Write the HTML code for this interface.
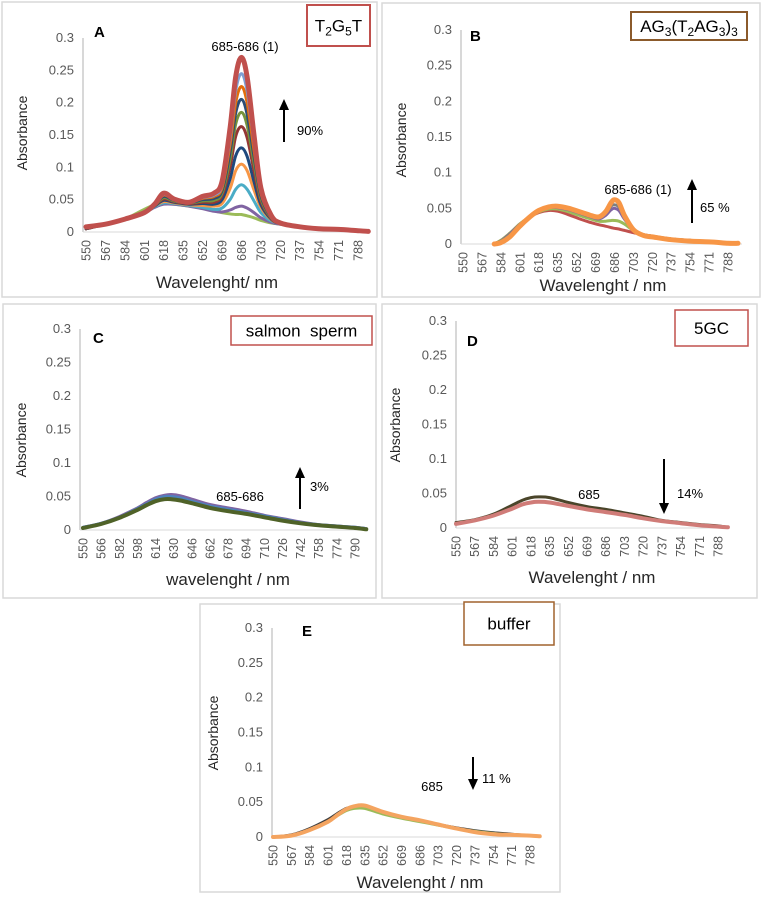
<!DOCTYPE html>
<html><head><meta charset="utf-8"><style>
html,body{margin:0;padding:0;background:#fff;}
svg{display:block;font-family:"Liberation Sans",sans-serif;}
.tick{font-size:12.5px;fill:#595959;}
.ytick{font-size:13px;fill:#595959;}
.ttl{font-size:16px;fill:#262626;}
.ann{font-size:13px;fill:#000;}
</style></head><body>
<svg id="fig" width="763" height="901" viewBox="0 0 763 901"></svg>
<script>
// ---- Data ----
const ticksA = [550,567,584,601,618,635,652,669,686,703,720,737,754,771,788];
const ticksC = [550,566,582,598,614,630,646,662,678,694,710,726,742,758,774,790];
const yTicks = [0,0.05,0.1,0.15,0.2,0.25,0.3];
const yTickLabels = ["0","0.05","0.1","0.15","0.2","0.25","0.3"];

const wA = [550,567,584,601,610,618,627,640,652,662,669,676,681,686,691,697,703,712,720,737,754,771,788,797];
const aGreen  = [0.005,0.012,0.02,0.035,0.042,0.044,0.043,0.04,0.037,0.033,0.03,0.028,0.027,0.027,0.025,0.022,0.018,0.014,0.012,0.008,0.005,0.004,0.002,0.001];
const aPurple = [0.005,0.012,0.02,0.03,0.038,0.043,0.043,0.04,0.036,0.032,0.031,0.034,0.038,0.04,0.037,0.03,0.022,0.015,0.012,0.008,0.005,0.004,0.002,0.001];
const aCyan   = [0.005,0.012,0.02,0.03,0.039,0.045,0.044,0.041,0.038,0.035,0.037,0.05,0.066,0.073,0.066,0.048,0.03,0.017,0.013,0.008,0.005,0.004,0.002,0.001];
const aOrange = [0.005,0.012,0.02,0.03,0.04,0.047,0.045,0.042,0.041,0.04,0.044,0.067,0.095,0.105,0.095,0.065,0.038,0.019,0.013,0.008,0.005,0.004,0.002,0.001];
const aNavy   = [0.005,0.012,0.02,0.03,0.04,0.049,0.046,0.043,0.044,0.043,0.05,0.082,0.118,0.13,0.117,0.078,0.042,0.02,0.013,0.008,0.005,0.004,0.002,0.001];
const aDkRed  = [0.005,0.012,0.02,0.03,0.041,0.051,0.047,0.044,0.046,0.046,0.056,0.1,0.148,0.163,0.146,0.095,0.048,0.021,0.013,0.008,0.005,0.004,0.002,0.001];
const aOlive  = [0.006,0.012,0.02,0.03,0.041,0.053,0.048,0.045,0.048,0.049,0.06,0.112,0.167,0.185,0.165,0.107,0.052,0.022,0.014,0.008,0.005,0.004,0.002,0.001];
const aBlue   = [0.006,0.012,0.02,0.03,0.042,0.055,0.049,0.045,0.05,0.052,0.064,0.123,0.184,0.205,0.182,0.117,0.056,0.023,0.014,0.008,0.005,0.004,0.002,0.001];
const aGold   = [0.007,0.012,0.02,0.03,0.042,0.057,0.05,0.046,0.052,0.055,0.068,0.134,0.2,0.225,0.2,0.127,0.06,0.024,0.014,0.008,0.005,0.004,0.002,0.001];
const aSky    = [0.007,0.012,0.02,0.03,0.042,0.058,0.05,0.046,0.053,0.057,0.072,0.144,0.218,0.245,0.218,0.138,0.064,0.025,0.014,0.008,0.005,0.004,0.002,0.001];
const aPink   = [0.008,0.012,0.02,0.03,0.043,0.06,0.051,0.046,0.055,0.06,0.078,0.16,0.24,0.27,0.24,0.15,0.068,0.026,0.014,0.008,0.005,0.004,0.002,0.001];

const wB = [578,584,592,601,610,618,627,635,645,655,665,672,678,683,686,690,695,703,712,720,737,754,771,788,797];
const bRed    = [0,0.005,0.015,0.028,0.038,0.044,0.047,0.046,0.041,0.035,0.03,0.027,0.025,0.023,0.022,0.021,0.019,0.016,0.013,0.011,0.007,0.005,0.003,0.002,0.001];
const bGreen  = [0,0.005,0.015,0.028,0.038,0.045,0.049,0.049,0.045,0.04,0.035,0.032,0.032,0.033,0.033,0.032,0.028,0.019,0.013,0.011,0.007,0.005,0.003,0.002,0.001];
const bPurple = [0,0.004,0.014,0.027,0.038,0.046,0.051,0.051,0.048,0.043,0.038,0.035,0.04,0.048,0.05,0.047,0.035,0.02,0.013,0.011,0.007,0.005,0.003,0.002,0.001];
const bGray   = [0,0.004,0.013,0.026,0.038,0.047,0.052,0.052,0.049,0.044,0.039,0.036,0.043,0.053,0.055,0.052,0.038,0.02,0.013,0.011,0.007,0.005,0.003,0.002,0.001];
const bOrange = [0,0.002,0.01,0.025,0.038,0.047,0.052,0.053,0.05,0.045,0.04,0.038,0.045,0.058,0.062,0.058,0.04,0.02,0.012,0.01,0.006,0.004,0.003,0.001,0.001];

const wC = [550,566,582,598,606,614,622,628,636,646,662,678,694,710,726,742,758,774,790,800];
const cPurple = [0.004,0.01,0.02,0.033,0.041,0.048,0.052,0.053,0.051,0.046,0.038,0.033,0.028,0.022,0.017,0.012,0.008,0.006,0.004,0.002];
const cBlue   = [0.004,0.01,0.019,0.032,0.039,0.046,0.05,0.05,0.048,0.043,0.036,0.031,0.026,0.021,0.016,0.011,0.008,0.006,0.004,0.002];
const cGreen  = [0.003,0.009,0.018,0.03,0.037,0.043,0.046,0.046,0.044,0.04,0.033,0.028,0.024,0.019,0.014,0.01,0.007,0.005,0.003,0.001];

const wDE = [550,567,584,601,610,618,625,635,652,669,686,703,720,737,754,771,788,797];
const dDark = [0.008,0.012,0.02,0.033,0.04,0.044,0.045,0.044,0.037,0.031,0.027,0.022,0.017,0.011,0.008,0.005,0.003,0.001];
const dPink = [0.006,0.011,0.018,0.028,0.034,0.037,0.038,0.037,0.032,0.027,0.023,0.019,0.014,0.01,0.007,0.004,0.002,0.001];
const eDark   = [0,0.003,0.012,0.025,0.034,0.041,0.043,0.042,0.034,0.028,0.024,0.018,0.013,0.009,0.006,0.004,0.002,0.001];
const eGreen  = [0,0.002,0.01,0.022,0.031,0.038,0.041,0.041,0.033,0.027,0.022,0.017,0.012,0.008,0.005,0.003,0.002,0.001];
const eOrange = [0,0.002,0.01,0.022,0.032,0.04,0.044,0.045,0.036,0.029,0.024,0.018,0.012,0.007,0.004,0.003,0.002,0.001];

// ---- Drawing ----
const NS = "http://www.w3.org/2000/svg";
const svg = document.getElementById('fig');
function mk(tag, attrs, parent, txt){
  const e = document.createElementNS(NS, tag);
  for (const k in attrs) e.setAttribute(k, attrs[k]);
  if (txt !== undefined) e.textContent = txt;
  (parent||svg).appendChild(e);
  return e;
}
function smoothPath(pts){
  let d = "M" + pts[0][0].toFixed(1) + "," + pts[0][1].toFixed(1);
  for (let i=0;i<pts.length-1;i++){
    const p0 = pts[i-1]||pts[i], p1 = pts[i], p2 = pts[i+1], p3 = pts[i+2]||p2;
    const c1 = [p1[0]+(p2[0]-p0[0])/6, p1[1]+(p2[1]-p0[1])/6];
    const c2 = [p2[0]-(p3[0]-p1[0])/6, p2[1]-(p3[1]-p1[1])/6];
    d += "C"+c1[0].toFixed(1)+","+c1[1].toFixed(1)+" "+c2[0].toFixed(1)+","+c2[1].toFixed(1)+" "+p2[0].toFixed(1)+","+p2[1].toFixed(1);
  }
  return d;
}
function panel(cfg){
  const g = mk('g', {});
  
  
  const fr = mk('rect', {x:cfg.frame[0], y:cfg.frame[1], width:cfg.frame[2]-cfg.frame[0], height:cfg.frame[3]-cfg.frame[1], fill:'#fff', stroke:'#d9d9d9', 'stroke-width':1.5}, g);
  
  
  const xs = v => cfg.x0 + (v - cfg.w0) * (cfg.x1 - cfg.x0) / (cfg.w1 - cfg.w0);
  const ys = v => cfg.y0 - v * (cfg.y0 - cfg.y3) / 0.3;
  const ax = mk('line', {x1:cfg.ax, y1:ys(0.3), x2:cfg.ax, y2:ys(0), stroke:'#bfbfbf', 'stroke-width':1.2}, g);
  
  
  const xa = mk('line', {x1:cfg.ax, y1:ys(0), x2:cfg.xr, y2:ys(0), stroke:'#d9d9d9', 'stroke-width':1}, g);
  
  
  yTicks.forEach((t,i)=>{
    const e = mk('text', {x:cfg.ax-9, y:ys(t)+4, 'text-anchor':'end', class:'ytick'}, g, yTickLabels[i]);
    
    
  });
  cfg.ticks.forEach(t=>{
    const x = xs(t), y = ys(0)+8;
    const e = mk('text', {x:x, y:y, 'text-anchor':'end', class:'tick'}, g, String(t));
    e.setAttribute('transform', 'translate(4.5,0) rotate(-90 '+x+' '+y+')');
    
    
  });
  const yt = mk('text', {x:cfg.ylab[0], y:cfg.ylab[1], 'text-anchor':'middle', class:'ttl', transform:'rotate(-90 '+cfg.ylab[0]+' '+cfg.ylab[1]+')'}, g, 'Absorbance');
  yt.setAttribute('style', 'font-size:14px');
  
  
  const xt = mk('text', {x:cfg.xlab[0], y:cfg.xlab[1], 'text-anchor':'middle', class:'ttl'}, g, cfg.xtitle);
  xt.setAttribute('style', 'font-size:17px');
  
  
  cfg.series.forEach(s=>{
    const pts = s.v.map((v,i)=>[xs(s.w[i]), ys(v)]);
    const p = mk('path', {d:smoothPath(pts), fill:'none', stroke:s.c, 'stroke-width':s.sw||3, 'stroke-linejoin':'round', 'stroke-linecap':'round'}, g);
    
    
  });
  const lt = mk('text', {x:cfg.lp[0], y:cfg.lp[1], 'font-size':'15', 'font-weight':'bold', fill:'#000'}, g, cfg.letter);
  
  
  const bx = mk('rect', {x:cfg.box[0], y:cfg.box[1], width:cfg.box[2]-cfg.box[0], height:cfg.box[3]-cfg.box[1], fill:'#fff', stroke:cfg.boxc, 'stroke-width':cfg.boxw||1.5}, g);
  
  
  const bt = mk('text', {x:(cfg.box[0]+cfg.box[2])/2, y:(cfg.box[1]+cfg.box[3])/2+6, 'text-anchor':'middle', 'font-size':'17', fill:'#000'}, g);
  
  
  bt.innerHTML = cfg.boxText;
  const pk = mk('text', {x:cfg.pk[0], y:cfg.pk[1], 'text-anchor':'middle', class:'ann'}, g, cfg.pkText);
  
  
  const a = cfg.arrow, up = a[2] < a[1];
  const al = mk('line', {x1:a[0], y1:a[1], x2:a[0], y2:a[2] + (up?8:-8), stroke:'#000', 'stroke-width':2}, g);
  
  
  const ah = mk('polygon', {points: a[0]+','+a[2]+' '+(a[0]-5)+','+(a[2]+(up?11:-11))+' '+(a[0]+5)+','+(a[2]+(up?11:-11)), fill:'#000'}, g);
  
  
  const pc = mk('text', {x:cfg.pct[0], y:cfg.pct[1], class:'ann'}, g, cfg.pctText);
  
  
}

panel({letter:'A', frame:[2,2,377,297], ax:83, xr:368, x0:86, x1:358, w0:550, w1:788, y0:232, y3:38,
  ticks:ticksA, ylab:[27,133], xlab:[217,288], xtitle:'Wavelenght/ nm', lp:[94,37],
  box:[307,5,370,46], boxc:'#c0504d', boxw:2, boxText:'T<tspan font-size="12" dy="4">2</tspan><tspan dy="-4">G</tspan><tspan font-size="12" dy="4">5</tspan><tspan dy="-4">T</tspan>',
  pk:[245,51], pkText:'685-686 (1)', arrow:[284,142,99], pct:[297,135], pctText:'90%',
  series:[
    {w:wA,v:aGreen,c:'#9bbb59'},{w:wA,v:aPurple,c:'#8064a2'},{w:wA,v:aCyan,c:'#4bacc6'},
    {w:wA,v:aOrange,c:'#f79646'},{w:wA,v:aNavy,c:'#1f497d'},{w:wA,v:aDkRed,c:'#943634'},
    {w:wA,v:aOlive,c:'#76923c'},{w:wA,v:aBlue,c:'#2c4d75'},{w:wA,v:aGold,c:'#e46c0a'},
    {w:wA,v:aSky,c:'#7f9fd3'},{w:wA,v:aPink,c:'#c0504d',sw:5}
  ]});

panel({letter:'B', frame:[382,3,760,297], ax:461, xr:742, x0:463, x1:728, w0:550, w1:788, y0:244, y3:30,
  ticks:ticksA, ylab:[406,140], xlab:[603,291], xtitle:'Wavelenght / nm', lp:[470,41],
  box:[631,12,747,40], boxc:'#8b5a2b', boxw:2, boxText:'AG<tspan font-size="12" dy="4">3</tspan><tspan dy="-4">(T</tspan><tspan font-size="12" dy="4">2</tspan><tspan dy="-4">AG</tspan><tspan font-size="12" dy="4">3</tspan><tspan dy="-4">)</tspan><tspan font-size="12" dy="4">3</tspan>',
  pk:[638,194], pkText:'685-686 (1)', arrow:[692,223,179], pct:[700,212], pctText:'65 %',
  series:[
    {w:wB,v:bRed,c:'#c0504d'},{w:wB,v:bGreen,c:'#9bbb59'},{w:wB,v:bPurple,c:'#8064a2'},
    {w:wB,v:bGray,c:'#7f7f7f'},{w:wB,v:bOrange,c:'#f79646',sw:5}
  ]});

panel({letter:'C', frame:[3,304,376,598], ax:80, xr:365, x0:83, x1:355, w0:550, w1:790, y0:530, y3:329,
  ticks:ticksC, ylab:[26,440], xlab:[228,585], xtitle:'wavelenght / nm', lp:[93,343],
  box:[231,316,372,345], boxc:'#c0504d', boxw:1.5, boxText:'salmon&#160; sperm',
  pk:[240,501], pkText:'685-686', arrow:[300,509,467], pct:[310,491], pctText:'3%',
  series:[
    {w:wC,v:cPurple,c:'#8064a2'},{w:wC,v:cBlue,c:'#4f81bd'},{w:wC,v:cGreen,c:'#4f6228',sw:4}
  ]});

panel({letter:'D', frame:[382,304,757,598], ax:456, xr:729, x0:456, x1:718, w0:550, w1:788, y0:528, y3:321,
  ticks:ticksA, ylab:[400,425], xlab:[592,583], xtitle:'Wavelenght / nm', lp:[467,346],
  box:[675,310,748,346], boxc:'#c0504d', boxw:1.5, boxText:'5GC',
  pk:[589,499], pkText:'685', arrow:[664,459,514], pct:[677,498], pctText:'14%',
  series:[
    {w:wDE,v:dDark,c:'#4a452a',sw:3},{w:wDE,v:dPink,c:'#d07c78',sw:4}
  ]});

panel({letter:'E', frame:[200,604,560,892], ax:272, xr:542, x0:273, x1:530, w0:550, w1:788, y0:837, y3:628,
  ticks:ticksA, ylab:[218,733], xlab:[420,888], xtitle:'Wavelenght /  nm', lp:[302,636],
  box:[464,602,554,645], boxc:'#a0622d', boxw:1.5, boxText:'buffer',
  pk:[432,791], pkText:'685', arrow:[473,757,790], pct:[482,783], pctText:'11 %',
  series:[
    {w:wDE,v:eDark,c:'#404040',sw:3},{w:wDE,v:eGreen,c:'#9bbb59',sw:3},{w:wDE,v:eOrange,c:'#f4a460',sw:4}
  ]});
</script>
</body></html>
